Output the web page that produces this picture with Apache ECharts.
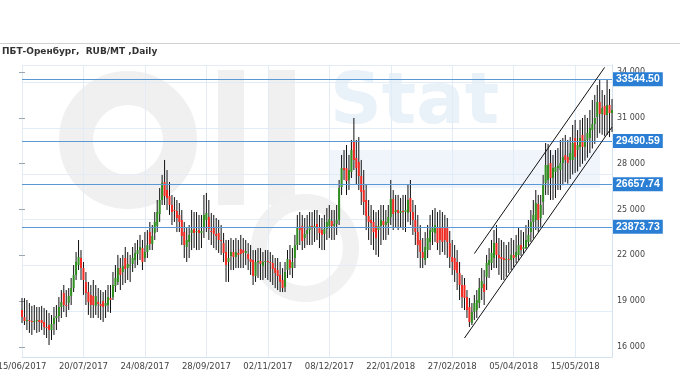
<!DOCTYPE html>
<html><head><meta charset="utf-8">
<script src="https://cdn.jsdelivr.net/npm/echarts@6/dist/echarts.min.js"></script>
<style>html,body{margin:0;padding:0;background:#fff}#c{width:680px;height:380px}</style>
</head><body><div id="c"></div>
<script>
const titleText = 'ПБТ-Оренбург,  RUB/MT ,Daily';
const firstDay = [2017, 6, 15];
const holidays = ['2017-11-06','2018-01-01','2018-01-02','2018-01-03','2018-01-04','2018-01-05','2018-01-08',
  '2018-02-23','2018-03-08','2018-03-09','2018-04-30','2018-05-01','2018-05-02','2018-05-09','2018-06-11','2018-06-12'];
const workSaturdays = ['2018-04-28','2018-06-09'];

const openVals = [
18420,17960,17700,17770,17700,17640,17700,17770,17770,17640,
17310,17440,17110,17510,17900,18030,18620,19540,18750,18880,
19340,19860,20720,21370,21830,21170,20260,19600,19410,19340,
18690,18950,18820,19010,18690,18750,19210,19270,20000,20260,
21170,20910,21830,21170,21300,21440,21700,22090,22350,22480,
21830,22220,23530,22750,23470,23930,24710,25630,26810,26280,
25890,25300,24970,24910,24650,24320,23530,22550,22880,23470,
23730,23530,23660,23470,23790,24320,24520,23600,23790,23400,
23470,23010,22810,22220,21570,21960,22220,21900,22160,22420,
22350,22160,22090,21760,21700,20650,21570,21630,21300,21570,
21630,21570,21500,21170,21040,20720,20390,19930,21040,21700,
21170,21830,22680,23790,23930,23140,23400,23660,23930,23790,
24060,23860,23660,23400,23730,23930,24250,23930,24060,24320,
26480,27720,27720,26940,27460,29490.59,28380,28120,27200,26280,
25630,24580,24320,24190,23930,23660,23930,24250,23990,24120,
24520,25690,24840,24970,24780,24910,24840,24780,25760,24840,
24320,23530,23010,22220,21700,22350,22880,23530,23470,23860,
23790,23860,23790,23790,22810,21900,21830,21570,20850,20060,
20060,19270,18620,17570,18290,18420,18880,19860,20130,20590,
21370,21500,21830,22810,22030,21900,21830,21700,21760,21700,
22030,21900,22030,22680,22420,22480,22880,23530,24190,24320,
25370,24450,25500,26740,26940,28050,27070,27460,27720,27590,
28050,28580,28450,28250,28250,29690,28900,29100,29890,29100,
29560,29690,30210,30610,31065,32050,31260,31790,31200,31850,
31330];

const closeVals = [
17960,17700,17770,17700,17640,17700,17770,17640,17570,17310,
17240,17110,17510,17900,18030,18620,18950,18750,18690,19340,
19860,20720,21570,21900,21170,20390,19540,18950,18750,18750,
19340,18820,18690,18620,18880,19270,19080,20060,20520,21170,
20720,21300,21110,21440,21370,21830,22160,22350,22550,21570,
22220,22680,22750,23270,24190,24840,25630,26740,25890,25760,
25300,24840,24910,24450,24190,23270,22680,23010,23340,23660,
23470,23600,23470,23600,24650,24780,23730,23530,23400,23270,
23010,22940,22160,21370,21830,22220,21900,22220,22030,22090,
22160,22290,21760,21570,20650,21570,21630,21440,21570,21630,
21570,21500,21110,20850,20650,20260,19860,20910,21760,21170,
21570,22680,23860,23660,22940,23400,23660,23930,23790,23930,
23790,23470,23340,23730,24190,24380,23930,24060,24320,26410,
27720,27590,26870,27590,28900,28250,27720,27200,26150,25500,
24580,24190,24120,23530,23140,23930,24320,23990,24190,24520,
25690,24710,24970,24780,24910,24840,24970,25630,24840,24320,
23530,22680,22220,21830,22550,23140,23660,23790,23990,22810,
23010,22880,23010,22880,21900,21570,21040,20850,20060,19270,
19210,18420,17640,18290,18880,19080,19860,20320,19600,21500,
21700,22160,22810,22030,21830,21760,21700,21760,21700,22030,
21830,22220,22680,22350,22550,23010,23340,24190,24650,25430,
24320,25300,26680,27920,27920,27070,27720,27790,27860,28050,
28450,28250,28050,28710,29360,28450,29230,29690,29100,29560,
30020,30340,30610,31000,32050,31260,31650,31200,31850,31330,
31520];

const lowVals = [
17570,17440,17110,16920,16790,17110,16920,16980,17110,16790,
16590,16130,16460,16790,17110,17640,17900,18290,17960,18420,
18750,19600,20390,21040,20390,19410,18750,18100,17900,17900,
18100,17900,17770,17640,17900,18290,18230,19080,19600,20060,
19730,20060,20190,20390,20260,20910,21170,21370,21700,21040,
21570,21830,22350,22350,23010,23530,24190,25300,25300,24970,
24650,23990,24190,23530,23530,22680,21830,21570,21830,22350,
22480,22350,22350,22480,23140,23530,23010,22680,22480,22350,
22160,22030,21570,20260,20260,21040,21040,21170,21170,21170,
21170,21370,21040,20720,20060,20260,20520,20390,20390,20520,
20390,20260,20060,19860,19730,19600,19600,19600,20520,20720,
20520,21170,22350,22680,22350,22480,22680,22680,22680,22880,
23010,22480,22350,22350,23010,23140,23010,23010,23340,23990,
25960,26940,25960,26280,27070,27590,26610,26280,25300,24650,
23660,23010,22680,22350,22030,21900,22680,23010,23010,23340,
23990,23660,23790,23660,23790,23660,23530,24190,23990,23340,
22680,21830,21170,21170,21370,21830,22350,22680,22880,22350,
22030,22220,22030,21830,21170,20720,20260,19730,19080,18550,
18420,17900,17310,17440,17770,17900,18550,19080,18750,19730,
20520,21040,21170,21170,20720,20390,20390,20590,20850,21040,
21240,21500,21700,21960,22160,22420,22620,22880,23100,23660,
23530,23790,24650,25960,25960,25630,25630,25760,26280,26280,
26600,26800,26700,27000,27300,27400,27500,27800,28000,28200,
28400,28700,29000,29300,29700,30000,29900,29800,29890,29750,
30080];

const highVals = [
19210,19200,19080,18880,18690,18750,18620,18620,18690,18550,
18420,18230,18100,18620,18750,19270,19730,20060,19730,19860,
20520,21370,22220,23010,22350,21570,20910,20260,20060,20390,
20060,19860,19730,19600,19730,20060,20060,20910,21370,22030,
21830,22030,22550,22220,22030,22550,22810,23010,23340,23010,
23530,23660,24190,23990,24840,25630,26410,27270,28250,27590,
26810,25960,25820,25630,25430,24970,24190,23790,23990,24970,
24840,24840,24650,24650,25960,26090,25630,24780,24650,24450,
24320,23990,23470,23010,23010,23140,23010,23140,23010,23340,
23140,23010,22810,22680,22350,22350,22480,22480,22220,22350,
22350,22220,22030,21830,21830,21570,21170,21570,22350,22680,
22480,23340,24650,24840,24650,24450,24650,24840,24840,24970,
24970,24650,24450,24650,25100,25300,24970,24970,25300,26940,
28580,28900,29230,28580,29560,31000,29560,29750,28250,27590,
26610,25630,25300,24970,24840,24970,25300,25300,24970,25300,
26940,26280,25960,25960,25760,25960,25960,26610,26940,25630,
25300,24650,23990,23140,23530,23990,24650,24970,25100,24840,
24970,24840,24650,24450,23600,23010,22680,22350,21570,20720,
20520,19730,19210,18880,19410,19730,20520,21170,21040,22030,
22480,23010,23660,23990,23140,23010,22880,22680,22880,23140,
23010,23340,23790,23660,23530,23990,24320,24970,25630,26280,
25960,25960,27270,29360,29300,28900,28580,28900,29030,29560,
29690,29890,29560,29750,30540,30870,30210,30870,31000,31200,
31000,31520,32180,32510,33160,33544.5,32830,32510,33544.5,32900,
32240];

const levelLines = [33544.50, 29490.59, 26657.74, 23873.73];
const channelUpper = [[184, 22118], [237, 34313]];
const channelLower = [[180, 16589], [240, 30403]];

function pad(n){ return (n < 10 ? '0' : '') + n; }
const dates = [];
(function(){
  const d = new Date(Date.UTC(firstDay[0], firstDay[1]-1, firstDay[2]));
  while (dates.length < openVals.length) {
    const iso = d.toISOString().slice(0,10);
    const wd = d.getUTCDay();
    const working = (wd >= 1 && wd <= 5 && holidays.indexOf(iso) < 0) || workSaturdays.indexOf(iso) >= 0;
    if (working) dates.push(pad(d.getUTCDate()) + '/' + pad(d.getUTCMonth()+1) + '/' + d.getUTCFullYear());
    d.setUTCDate(d.getUTCDate() + 1);
  }
})();

const ohlc = dates.map((_, i) => [i, openVals[i], closeVals[i], lowVals[i], highVals[i]]);

const UP = '#2f8f1f', DOWN = '#f42a22', WICK = '#111';
const GRIDC = '#e2ecf6';
const fmtThousands = v => String(v).replace(/\B(?=(\d{3})+(?!\d))/g, ' ');

const chart = echarts.init(document.getElementById('c'), null, {renderer: 'canvas'});
chart.setOption({
  animation: false,
  backgroundColor: '#fff',
  title: {
    text: titleText, left: 2, top: 47, padding: 0,
    textStyle: {fontSize: 9, fontWeight: 'bold', color: '#333', fontFamily: 'DejaVu Sans'}
  },
  graphic: [
    {type: 'line', shape: {x1: 0, y1: 43.5, x2: 680, y2: 43.5}, style: {stroke: '#d0d0d0', lineWidth: 1}, silent: true},
    {type: 'circle', shape: {cx: 128, cy: 140, r: 52}, z: -1, silent: true, style: {fill: 'none', stroke: '#f0f0f0', lineWidth: 34}},
    {type: 'rect', shape: {x: 218, y: 70, width: 26, height: 135}, z: -1, silent: true, style: {fill: '#f0f0f0'}},
    {type: 'rect', shape: {x: 268, y: 70, width: 27, height: 135}, z: -1, silent: true, style: {fill: '#f0f0f0'}},
    {type: 'circle', shape: {cx: 305, cy: 248, r: 46}, z: -1, silent: true, style: {fill: 'none', stroke: '#f1f1f1', lineWidth: 16}},
    {type: 'rect', shape: {x: 330, y: 150, width: 270, height: 38}, z: -1, silent: true, style: {fill: '#f0f5fb'}},
    {type: 'text', x: 330, y: 104, z: -1, silent: true, style: {text: 'Stat', font: 'bold 72px "DejaVu Sans"', fill: '#e9f1f9', textAlign: 'left', textVerticalAlign: 'middle'}}
  ],
  grid: [
    {left: 22, right: 68, top: 65, bottom: 23, outerBoundsMode: 'none'},
    {left: 22, right: 68, top: 72, bottom: 33, outerBoundsMode: 'none'}
  ],
  xAxis: [
    {
      type: 'category', gridIndex: 0, data: dates, boundaryGap: false,
      axisLine: {show: true, lineStyle: {color: '#d4e2f0'}},
      axisTick: {show: false},
      axisLabel: {interval: 24, fontSize: 8.5, color: '#444', fontFamily: 'DejaVu Sans', margin: 5},
      splitLine: {show: true, interval: 24, lineStyle: {color: GRIDC, width: 1}}
    },
    {type: 'value', gridIndex: 1, show: false, min: 0, max: 1}
  ],
  yAxis: [
    {
      type: 'value', gridIndex: 0, min: 15345, max: 34470, interval: 3000, position: 'right',
      axisLine: {show: true, lineStyle: {color: '#d4e2f0'}},
      axisTick: {show: false}, axisLabel: {show: false},
      splitLine: {show: true, lineStyle: {color: GRIDC, width: 1}}
    },
    {
      type: 'value', gridIndex: 1, min: 16000, max: 34000, interval: 3000, position: 'right',
      axisLine: {show: false},
      axisTick: {show: true, length: 3, lineStyle: {color: '#9aa6b2'}},
      axisLabel: {fontSize: 8, color: '#444', fontFamily: 'DejaVu Sans', margin: 5, formatter: fmtThousands},
      splitLine: {show: false}
    },
    {
      type: 'value', gridIndex: 1, min: 16000, max: 34000, interval: 3000, position: 'left',
      axisLine: {show: false},
      axisTick: {show: true, length: 3, lineStyle: {color: '#9aa6b2'}},
      axisLabel: {show: false}, splitLine: {show: false}
    }
  ],
  series: [
    {
      type: 'custom', xAxisIndex: 0, yAxisIndex: 0, z: 5,
      data: ohlc,
      encode: {x: 0, y: [1, 2, 3, 4]},
      renderItem: function (params, api) {
        const i = api.value(0);
        const o = api.coord([i, api.value(1)]);
        const c = api.coord([i, api.value(2)]);
        const l = api.coord([i, api.value(3)]);
        const h = api.coord([i, api.value(4)]);
        const ov = api.value(1), cv = api.value(2);
        const col = cv > ov ? UP : (cv < ov ? DOWN : WICK);
        const top = Math.min(o[1], c[1]);
        const ht = Math.max(1, Math.abs(o[1] - c[1]));
        return {
          type: 'group',
          children: [
            {type: 'line', shape: {x1: h[0], y1: h[1], x2: l[0], y2: l[1]}, style: {stroke: WICK, lineWidth: 1}},
            {type: 'rect', shape: {x: o[0] - 1, y: top, width: 2, height: ht}, style: {fill: col}}
          ]
        };
      },
      markLine: {
        silent: true, symbol: ['none', 'none'], animation: false, z: 10,
        data: levelLines.map(v => ({
          yAxis: v,
          lineStyle: {color: '#5a98d6', width: 1, type: 'solid'},
          label: {
            show: true, position: 'end', distance: 1, formatter: v.toFixed(2),
            backgroundColor: '#2a7fd4', color: '#fff', fontWeight: 'bold', fontSize: 10.5,
            fontFamily: 'Liberation Sans', padding: [2, 3, 1, 3]
          }
        })).concat([
          [{coord: channelUpper[0], lineStyle: {color: '#111', width: 1, type: 'solid'}, label: {show: false}}, {coord: channelUpper[1]}],
          [{coord: channelLower[0], lineStyle: {color: '#111', width: 1, type: 'solid'}, label: {show: false}}, {coord: channelLower[1]}]
        ])
      }
    }
  ]
});
</script>
</body></html>
